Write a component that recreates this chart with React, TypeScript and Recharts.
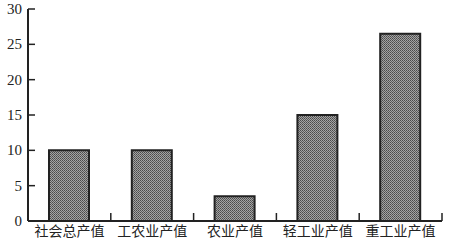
import React from 'react'
import { BarChart, Bar, XAxis, YAxis } from 'recharts'

// 数据：各项产值
const categories = ['社会总产值', '工农业产值', '农业产值', '轻工业产值', '重工业产值']
const values = [10, 10, 3.5, 15, 26.5]
const yTicks = [0, 5, 10, 15, 20, 25, 30]

const data = categories.map((name, i) => ({ name, value: values[i] }))

const ink = '#222'
const font = '"Liberation Serif", "Noto Sans CJK SC", serif'

// Y 轴：刻度线朝内（向右），数字在左
const YTick = (props: any) => {
  const { x, y, payload } = props
  return (
    <g>
      <line x1={x + 6} x2={x + 13} y1={y} y2={y} stroke={ink} strokeWidth={1.5} />
      <text x={x} y={y} dy={5} textAnchor="end" fontSize={15} fill={ink} fontFamily={font}>
        {payload.value}
      </text>
    </g>
  )
}

// X 轴：类别名在格中央，刻度线在两格之间，朝上
const XTick = (props: any) => {
  const { x, y, payload } = props
  const half = payload.offset || 41
  return (
    <g>
      <line x1={x + half} x2={x + half} y1={y} y2={y - 8} stroke={ink} strokeWidth={1.5} />
      <text x={x} y={y} dy={15} textAnchor="middle" fontSize={14} fill={ink} fontFamily={font}>
        {payload.value}
      </text>
    </g>
  )
}

export default function App() {
  return (
    <div style={{ position: 'absolute', left: 0, top: 0, width: 449, height: 244, background: '#fff' }}>
      <BarChart
        width={449}
        height={244}
        data={data}
        margin={{ top: 9, right: 7, bottom: 0, left: 0 }}
        barSize={40}
      >
        <defs>
          {/* 细密的网纹填充 */}
          <pattern id="hatch" width="2" height="2" patternUnits="userSpaceOnUse">
            <rect width="2" height="2" fill="#a4a4a4" />
            <rect x="0" y="0" width="1" height="1" fill="#4a4a4a" />
            <rect x="1" y="1" width="1" height="1" fill="#5e5e5e" />
          </pattern>
        </defs>
        <XAxis
          dataKey="name"
          height={23}
          tickLine={false}
          tickSize={0}
          tickMargin={0}
          axisLine={{ stroke: ink, strokeWidth: 2 }}
          tick={<XTick />}
          interval={0}
        />
        <YAxis
          width={28}
          domain={[0, 30]}
          ticks={yTicks}
          tickLine={false}
          tickSize={0}
          tickMargin={6}
          axisLine={{ stroke: ink, strokeWidth: 2 }}
          tick={<YTick />}
          interval={0}
        />
        <Bar
          dataKey="value"
          fill="url(#hatch)"
          stroke={ink}
          strokeWidth={2}
          isAnimationActive={false}
        />
      </BarChart>
    </div>
  )
}
